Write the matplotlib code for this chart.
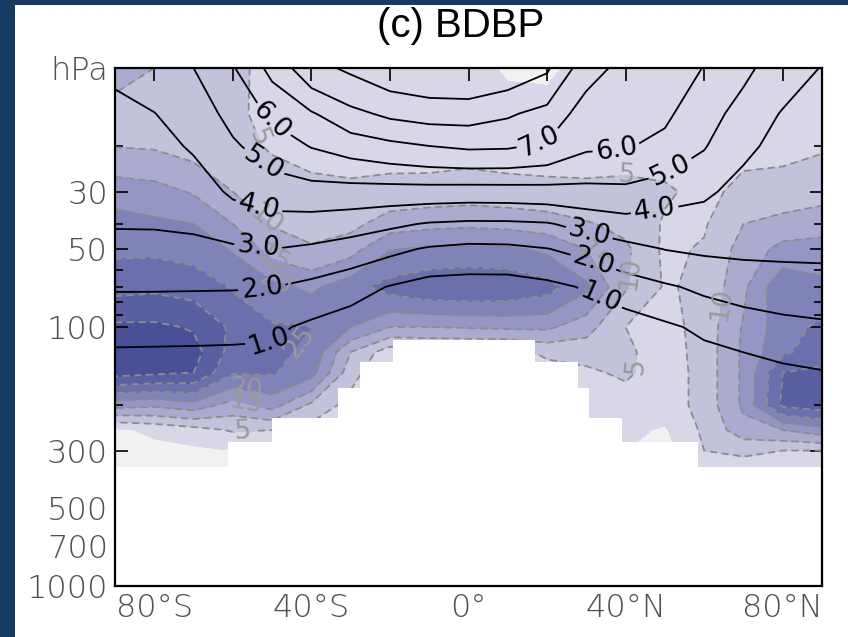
import numpy as np
import matplotlib
matplotlib.use('Agg')
import matplotlib.pyplot as plt
from matplotlib.patches import Rectangle

# latitude grid (deg)
lat = [-90, -80, -70, -60, -50, -40, -30, -20, -10, 0, 10, 20, 30, 40, 50, 60, 70, 80, 90]

# shaded field, rows = pressure levels (hPa)
shade_lev = [10, 15, 20, 30, 40, 50, 70, 100, 125, 150, 200, 250, 300, 350]
shade = [
    [12, 10, 7, 6.5, 3, 2.5, 2, 1.5, 1.2, 1, -0.4, -0.6, 1, 1.5, 2, 2.5, 3, 3.5, 4],
    [8, 7, 6, 6, 3.5, 3, 2.5, 2, 1.5, 1.5, 1.2, 1.2, 2, 2.5, 3, 3, 3.5, 4, 4.5],
    [9.8, 9.5, 8, 6.5, 4.5, 3.5, 3, 3, 2.5, 3, 2.5, 2.5, 3, 3.5, 3.5, 3.5, 4, 4, 4.5],
    [18, 17, 14.5, 10, 7.5, 6.3, 6, 6.6, 7.1, 7.5, 7, 6.5, 6, 6, 5.5, 4, 6, 6.5, 8],
    [22, 21, 20, 15, 9.7, 8.3, 8.5, 12.5, 13.5, 14, 13.5, 12.5, 10.5, 8.5, 4.5, 4.5, 10, 12, 13],
    [24, 24, 23, 19.5, 13, 10.5, 13, 19.7, 21, 21.5, 21, 19, 15, 11, 4, 5.5, 12, 16.5, 17],
    [28.5, 29, 28, 24.5, 21.5, 19, 23, 27, 29, 29.5, 29, 27, 21, 10.5, 4.5, 6, 14, 24, 21.5],
    [36, 36, 34.5, 29, 25.5, 25, 20, 15, 15, 15.5, 16, 16, 12, 5, 3, 7, 15.5, 23, 26],
    [38, 38, 37, 28, 26, 24, 10, 2, 3, 3, 3, 6, 7, 6, 2.5, 7, 16, 24, 28],
    [37, 36, 35, 25.5, 25.5, 22, 7, 0, 0, 0, 0, 3, 4, 6, 2, 7, 16, 30, 31],
    [17, 16, 18, 13, 17, 9, 3, 0, 0, 0, 0, 1, 2, 2, 2, 7, 16, 31, 33],
    [-1, 1, 3, 5.5, 5, 3, 1, 0, 0, 0, 0, 0, 1, 1, -0.5, 6, 13, 15, 18],
    [-2, -1.5, -1, 0, 1, 1, 0, 0, 0, 0, 0, 0, 0, 0, -2, 5, 6, 5, 5],
    [-3, -3, -2, -1, 0, 0, 0, 0, 0, 0, 0, 0, 0, 0, -2, 3, 3, 3, 3],
]

# line field (years), rows = pressure levels (hPa)
age_lev = [10, 15, 20, 30, 40, 50, 70, 100, 150, 200, 250, 300, 400]
age = [
    [4.15, 4.51, 5.0, 5.92, 7.3, 8.7, 9.17, 9.67, 9.9, 10.0, 9.67, 9.14, 7.4, 6.7, 6.5, 5.97, 5.23, 4.48, 3.96],
    [3.79, 3.98, 4.47, 5.31, 6.14, 6.9, 7.73, 8.21, 8.42, 8.43, 8.13, 7.67, 6.52, 6.33, 6.17, 5.44, 4.61, 3.93, 3.74],
    [3.58, 3.72, 4.1, 4.86, 5.5, 6.05, 6.43, 6.74, 7.0, 7.17, 7.13, 6.83, 6.16, 6.07, 5.76, 5.07, 4.19, 3.73, 3.58],
    [3.27, 3.34, 3.54, 4.15, 4.47, 4.6, 4.6, 4.58, 4.57, 4.53, 4.55, 4.61, 4.69, 4.75, 4.43, 4.17, 3.68, 3.45, 3.36],
    [3.06, 3.07, 3.15, 3.46, 3.64, 3.59, 3.43, 3.18, 2.92, 2.82, 2.83, 2.92, 3.33, 3.61, 3.58, 3.57, 3.4, 3.3, 3.25],
    [2.73, 2.73, 2.76, 2.87, 3.0, 2.84, 2.57, 2.22, 1.9, 1.76, 1.79, 1.97, 2.28, 2.7, 3.02, 3.15, 3.2, 3.2, 3.2],
    [2.08, 2.08, 2.07, 2.06, 2.02, 1.74, 1.38, 0.95, 0.6, 0.55, 0.55, 0.75, 1.09, 1.51, 1.87, 2.2, 2.41, 2.54, 2.61],
    [1.33, 1.31, 1.29, 1.26, 1.2, 0.8, 0.5, 0.4, 0.3, 0.3, 0.3, 0.35, 0.35, 0.5, 0.83, 1.2, 1.51, 1.71, 1.83],
    [0.5, 0.5, 0.5, 0.5, 0.5, 0.3, 0.2, 0.15, 0.1, 0.1, 0.1, 0.1, 0.1, 0.2, 0.3, 0.4, 0.5, 0.78, 0.94],
    [0.3, 0.3, 0.3, 0.3, 0.3, 0.15, 0.1, 0.05, 0.05, 0.05, 0.05, 0.05, 0.05, 0.1, 0.15, 0.2, 0.3, 0.5, 0.6],
    [0.2, 0.2, 0.2, 0.2, 0.2, 0.1, 0, 0, 0, 0, 0, 0, 0, 0.05, 0.1, 0.1, 0.2, 0.35, 0.45],
    [0.1, 0.1, 0.1, 0.1, 0.1, 0.05, 0, 0, 0, 0, 0, 0, 0, 0, 0.05, 0.05, 0.1, 0.2, 0.3],
    [0, 0, 0, 0, 0, 0, 0, 0, 0, 0, 0, 0, 0, 0, 0, 0, 0, 0.1, 0.1],
]

# no-data region: lowest valid pressure per latitude band
mask_lat = [-90, -61.2, -50, -33.2, -27.6, -19.2, 16.9, 27.9, 30.7, 39.1, 58.4, 90]
mask_p = [347, 278, 224, 172, 136, 112, 136, 172, 224, 278, 347, 347]

shade_levels = [-20, 0, 5, 10, 15, 20, 25, 30, 35, 60]
shade_colors = ['#f1f1f1', '#d7d7e7', '#c2c2db', '#ababcf', '#9596c3',
                '#8083b8', '#6b6fac', '#5a5fa2', '#4a5097']

# label positions (lat, hPa) per contour level
gray_lab = {5: [(-53, 18.5), (-57.4, 257), (40.3, 140), (40.3, 26.6)],
            10: [(-55, 44), (40.3, 62), (62, 81)],
            15: [(-50.5, 60), (-56.4, 192), (29, 56.6)],
            20: [(-50, 74), (-56.4, 167)],
            25: [(-43, 115)],
            30: [], 35: []}
black_lab = {1: [(-51, 105), (33.8, 75)],
             2: [(-52.6, 70.7), (32, 55)],
             3: [(-53.6, 49.5), (30.8, 43)],
             4: [(-53.6, 35.3), (47.5, 36.3)],
             5: [(-52.6, 23.7), (51.8, 25.2)],
             6: [(-50.5, 16.1), (37.8, 21.7)],
             7: [(18.2, 19.3)],
             8: [], 9: []}

plt.rcParams['lines.dashed_pattern'] = [4, 2.5]

fig = plt.figure(figsize=(8.48, 6.37), dpi=100, facecolor='#173a63')
fig.add_artist(Rectangle((15/848, 0), 1, 1 - 5/637, transform=fig.transFigure,
                         facecolor='white', edgecolor='none', zorder=-1))
ax = fig.add_axes([115/848, 1 - 586/637, 707/848, 518/637])
ax.set_yscale('log')
ax.set_xlim(-90, 90)
ax.set_ylim(1000, 10)

X, Y = np.meshgrid(lat, shade_lev)
Z = np.array(shade)
ax.contourf(X, Y, Z, levels=shade_levels, colors=shade_colors, zorder=1)
for lv, pos in gray_lab.items():
    cs = ax.contour(X, Y, Z, levels=[lv], colors='#8c8c8c', linestyles='dashed',
                    linewidths=1.3, zorder=2)
    if pos:
        ax.clabel(cs, manual=pos, fmt='%d', fontsize=19, colors='#9a9a9a',
                  inline=True, inline_spacing=2)

XA, YA = np.meshgrid(lat, age_lev)
A = np.array(age)
for lv, pos in black_lab.items():
    cs = ax.contour(XA, YA, A, levels=[lv], colors='black', linewidths=1.3, zorder=2)
    if pos:
        ax.clabel(cs, manual=pos, fmt='%.1f', fontsize=19, colors='black',
                  inline=True, inline_spacing=3)

ax.fill_between(mask_lat, mask_p, 1000, step='post', color='white', lw=0, zorder=2.5)

xt = [-80, -60, -40, -20, 0, 20, 40, 60, 80]
xl = ['80°S', '', '40°S', '', '0°', '', '40°N', '', '80°N']
ax.set_xticks(xt)
ax.set_xticklabels(xl)
yt = [10, 30, 50, 100, 300, 500, 700, 1000]
yl = ['hPa', '30', '50', '100', '300', '500', '700', '1000']
ax.set_yticks(yt)
ax.set_yticklabels(yl)
ax.set_yticks([20, 40, 60, 70, 80, 90, 200, 400, 600, 800, 900], minor=True)
ax.yaxis.set_minor_formatter(matplotlib.ticker.NullFormatter())
ax.tick_params(which='both', direction='in', top=True, right=True,
               labelsize=23, labelcolor='#505050', width=1.2)
ax.tick_params(which='major', length=9, pad=5)
ax.tick_params(which='minor', length=6)
for lab in ax.get_xticklabels() + ax.get_yticklabels():
    lab.set_fontweight('light')
for s in ax.spines.values():
    s.set_linewidth(1.6)

fig.text(461/848, 1 - 26/637, '(c) BDBP', ha='center', va='center',
         fontsize=29, family='Liberation Sans')

fig.savefig('out.png', dpi=100, facecolor=fig.get_facecolor())
